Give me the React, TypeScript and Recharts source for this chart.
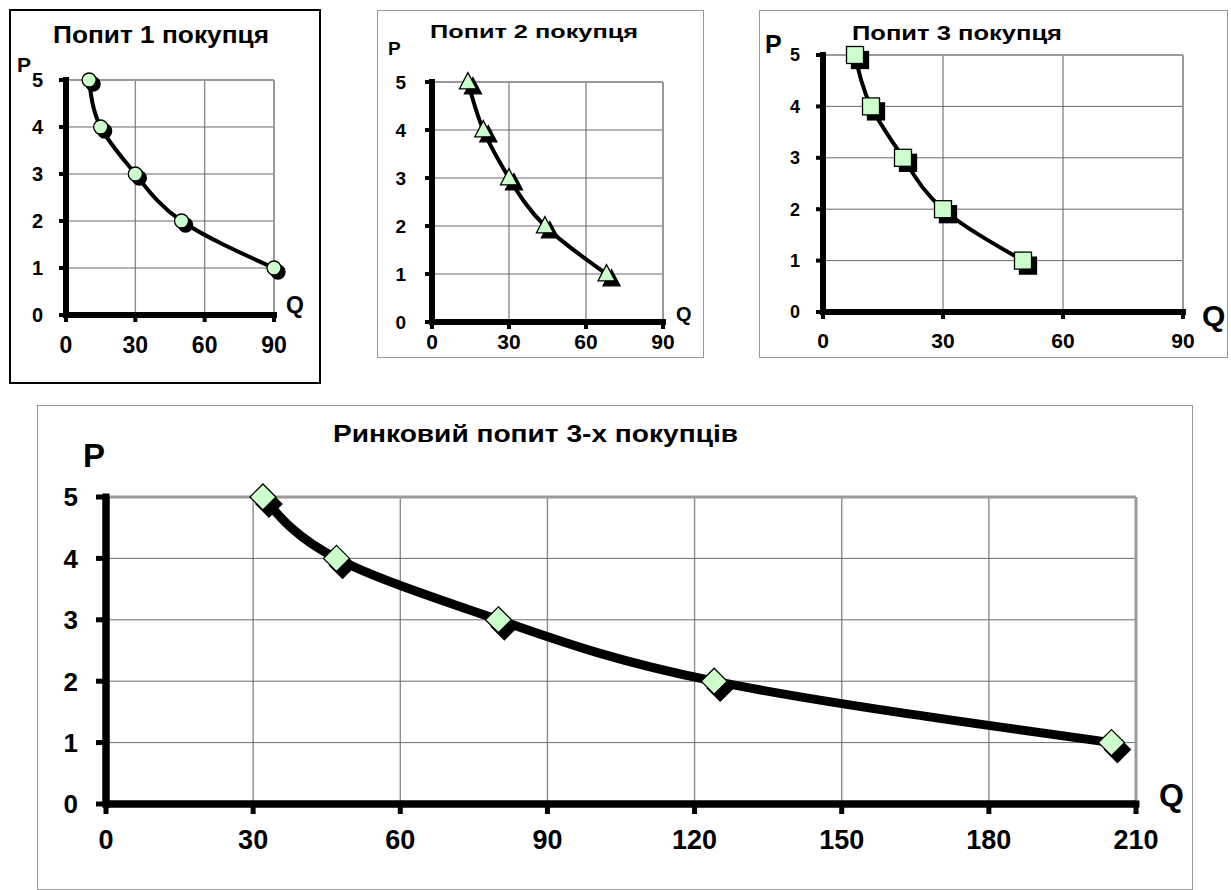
import React from 'react';
import { LineChart, Line, XAxis, YAxis, CartesianGrid, ReferenceLine } from 'recharts';

// ─── data ───
const PRICES = [5, 4, 3, 2, 1];
const BUYER1_Q = [10, 15, 30, 50, 90];
const BUYER2_Q = [14, 20, 30, 44, 68];
const BUYER3_Q = [8, 12, 20, 30, 50];
const MARKET_Q = [32, 47, 80, 124, 205];

const P_TICKS = [0, 1, 2, 3, 4, 5];
const Q_TICKS = [0, 30, 60, 90];
const MARKET_Q_TICKS = [0, 30, 60, 90, 120, 150, 180, 210];

const TITLES = ['Попит 1 покупця', 'Попит 2 покупця', 'Попит 3 покупця', 'Ринковий попит 3-х покупців'];

const FONT = "'Liberation Sans', Arial, sans-serif";
const GREEN = '#ccffcc';
const AXIS = '#000';

type MarkerKind = 'circle' | 'triangle' | 'square' | 'diamond';

const toRows = (qs: number[]) => qs.map((q, i) => ({ q, p: PRICES[i] }));

const marker = (kind: MarkerKind, cx: number, cy: number, s: number, fill: string) => {
  const stroke = '#000';
  const sw = 1.3;
  if (kind === 'circle') return <circle cx={cx} cy={cy} r={s / 2} fill={fill} stroke={stroke} strokeWidth={sw} />;
  if (kind === 'square')
    return <rect x={cx - s / 2} y={cy - s / 2} width={s} height={s} fill={fill} stroke={stroke} strokeWidth={sw} />;
  if (kind === 'triangle')
    return (
      <polygon
        points={`${cx},${cy - s * 0.55} ${cx - s / 2},${cy + s * 0.4} ${cx + s / 2},${cy + s * 0.4}`}
        fill={fill}
        stroke={stroke}
        strokeWidth={sw}
      />
    );
  return (
    <polygon
      points={`${cx},${cy - s / 2} ${cx + s / 2},${cy} ${cx},${cy + s / 2} ${cx - s / 2},${cy}`}
      fill={fill}
      stroke={stroke}
      strokeWidth={sw}
    />
  );
};

interface PanelSpec {
  box: { x: number; y: number; w: number; h: number; border: string };
  plot: { x1: number; x2: number; y1: number; y2: number };
  qs: number[];
  qTicks: number[];
  kind: MarkerKind;
  markerSize: number;
  shadow: [number, number];
  lineWidth: number;
  axisWidth: number;
  tickWidth: number;
  tickLen: number;
  yTick: { size: number; gap: number };
  xTick: { size: number; gap: number };
  edgeWidth: number;
}

const PANELS: PanelSpec[] = [
  {
    box: { x: 9, y: 9, w: 312, h: 375, border: '2px solid #000' },
    plot: { x1: 66, x2: 274, y1: 80, y2: 315 },
    qs: BUYER1_Q,
    qTicks: Q_TICKS,
    kind: 'circle',
    markerSize: 14,
    shadow: [4, 4],
    lineWidth: 4,
    axisWidth: 6,
    tickWidth: 4,
    tickLen: 7,
    yTick: { size: 20, gap: 16 },
    xTick: { size: 23, gap: 15 },
    edgeWidth: 2,
  },
  {
    box: { x: 377, y: 10, w: 327, h: 348, border: '1px solid #999' },
    plot: { x1: 432, x2: 663, y1: 82, y2: 322 },
    qs: BUYER2_Q,
    qTicks: Q_TICKS,
    kind: 'triangle',
    markerSize: 17,
    shadow: [5, 5],
    lineWidth: 4,
    axisWidth: 6,
    tickWidth: 4,
    tickLen: 7,
    yTick: { size: 19, gap: 19 },
    xTick: { size: 21, gap: 5 },
    edgeWidth: 2,
  },
  {
    box: { x: 759, y: 10, w: 469, h: 348, border: '1px solid #999' },
    plot: { x1: 823, x2: 1183, y1: 55, y2: 312 },
    qs: BUYER3_Q,
    qTicks: Q_TICKS,
    kind: 'square',
    markerSize: 17,
    shadow: [5, 5],
    lineWidth: 4,
    axisWidth: 6,
    tickWidth: 4,
    tickLen: 7,
    yTick: { size: 18, gap: 16 },
    xTick: { size: 21, gap: 14 },
    edgeWidth: 2,
  },
  {
    box: { x: 37, y: 405, w: 1156, h: 485, border: '1px solid #999' },
    plot: { x1: 106, x2: 1136, y1: 497, y2: 804 },
    qs: MARKET_Q,
    qTicks: MARKET_Q_TICKS,
    kind: 'diamond',
    markerSize: 26,
    shadow: [6, 7],
    lineWidth: 9,
    axisWidth: 7,
    tickWidth: 5,
    tickLen: 10,
    yTick: { size: 26, gap: 18 },
    xTick: { size: 27, gap: 16 },
    edgeWidth: 3,
  },
];

// text positions: left x, baseline y, font size, optional stretched width
const TEXTS = [
  { text: TITLES[0], x: 53, y: 43, size: 23, len: 216 },
  { text: 'P', x: 17, y: 72, size: 21 },
  { text: 'Q', x: 286, y: 313, size: 23 },
  { text: TITLES[1], x: 430, y: 38, size: 19, len: 208 },
  { text: 'P', x: 388, y: 55, size: 19 },
  { text: 'Q', x: 676, y: 321, size: 20 },
  { text: TITLES[2], x: 852, y: 40, size: 21, len: 210 },
  { text: 'P', x: 765, y: 53, size: 25 },
  { text: 'Q', x: 1202, y: 326, size: 30 },
  { text: TITLES[3], x: 333, y: 442, size: 23, len: 405 },
  { text: 'P', x: 83, y: 467, size: 33 },
  { text: 'Q', x: 1159, y: 806, size: 32 },
];

const renderPanel = (spec: PanelSpec, i: number) => {
  const { box, plot } = spec;
  const data = toRows(spec.qs);
  const qMax = spec.qTicks[spec.qTicks.length - 1];
  const axisLine = { stroke: AXIS, strokeWidth: spec.axisWidth };

  const renderDot = (props: any) => {
    const { cx, cy, index } = props;
    if (cx == null || cy == null) return <g key={index} />;
    return (
      <g key={index}>
        {marker(spec.kind, cx + spec.shadow[0], cy + spec.shadow[1], spec.markerSize, '#000')}
        {marker(spec.kind, cx, cy, spec.markerSize, GREEN)}
      </g>
    );
  };

  // tick mark + bold label at the position the axis hands in
  const renderXTick = (props: any) => {
    const { x, y, payload, index } = props;
    const fs = spec.xTick.size;
    return (
      <g key={`xt${index}`}>
        <line x1={x} x2={x} y1={y} y2={y + spec.tickLen} stroke={AXIS} strokeWidth={spec.tickWidth} />
        <text
          x={x}
          y={y + spec.tickLen + spec.xTick.gap + fs * 0.716}
          textAnchor="middle"
          fontSize={fs}
          fontWeight="bold"
          fontFamily={FONT}
          fill="#000"
        >
          {payload.value}
        </text>
      </g>
    );
  };

  const renderYTick = (props: any) => {
    const { x, y, payload, index } = props;
    const fs = spec.yTick.size;
    return (
      <g key={`yt${index}`}>
        <line x1={x - spec.tickLen} x2={x} y1={y} y2={y} stroke={AXIS} strokeWidth={spec.tickWidth} />
        <text
          x={x - spec.tickLen - spec.yTick.gap}
          y={y + fs * 0.358}
          textAnchor="end"
          fontSize={fs}
          fontWeight="bold"
          fontFamily={FONT}
          fill="#000"
        >
          {payload.value}
        </text>
      </g>
    );
  };

  return (
    <div
      key={i}
      style={{
        position: 'absolute',
        left: box.x,
        top: box.y,
        width: box.w,
        height: box.h,
        boxSizing: 'border-box',
        border: box.border,
      }}
    >
      <div style={{ position: 'absolute', left: -parseInt(box.border, 10), top: -parseInt(box.border, 10) }}>
        <LineChart
          width={box.w}
          height={box.h}
          data={data}
          margin={{ top: plot.y1 - box.y, right: box.x + box.w - plot.x2, left: 0, bottom: 0 }}
        >
          <CartesianGrid horizontal={false} stroke="#8c8c8c" strokeWidth={1.4} />
          <CartesianGrid vertical={false} stroke="#6a6a6a" strokeWidth={1} />
          <ReferenceLine y={5} stroke="#9a9a9a" strokeWidth={spec.edgeWidth} />
          <ReferenceLine x={qMax} stroke="#9a9a9a" strokeWidth={spec.edgeWidth} />
          <ReferenceLine y={0} stroke={AXIS} strokeWidth={spec.axisWidth} strokeLinecap="square" />
          <ReferenceLine x={0} stroke={AXIS} strokeWidth={spec.axisWidth} strokeLinecap="square" />
          <XAxis
            type="number"
            dataKey="q"
            domain={[0, qMax]}
            ticks={spec.qTicks}
            interval={0}
            height={box.y + box.h - plot.y2}
            axisLine={axisLine}
            tickLine={false}
            tickSize={0}
            tickMargin={0}
            tick={renderXTick}
          />
          <YAxis
            type="number"
            domain={[0, 5]}
            ticks={P_TICKS}
            interval={0}
            width={plot.x1 - box.x}
            axisLine={axisLine}
            tickLine={false}
            tickSize={0}
            tickMargin={0}
            tick={renderYTick}
          />
          <Line
            type="natural"
            dataKey="p"
            stroke="#000"
            strokeWidth={spec.lineWidth}
            dot={renderDot}
            activeDot={false}
            isAnimationActive={false}
          />
        </LineChart>
      </div>
    </div>
  );
};

export default function App() {
  return (
    <div
      style={{
        position: 'absolute',
        left: 0,
        top: 0,
        width: 1231,
        height: 890,
        overflow: 'hidden',
        background: '#fff',
      }}
    >
      {PANELS.map(renderPanel)}
      <svg
        width={1231}
        height={890}
        style={{ position: 'absolute', left: 0, top: 0, pointerEvents: 'none' }}
      >
        {TEXTS.map((t, i) => (
          <text
            key={i}
            x={t.x}
            y={t.y}
            fontSize={t.size}
            fontWeight="bold"
            fontFamily={FONT}
            fill="#000"
            {...(t.len ? { textLength: t.len, lengthAdjust: 'spacingAndGlyphs' } : {})}
          >
            {t.text}
          </text>
        ))}
      </svg>
    </div>
  );
}
